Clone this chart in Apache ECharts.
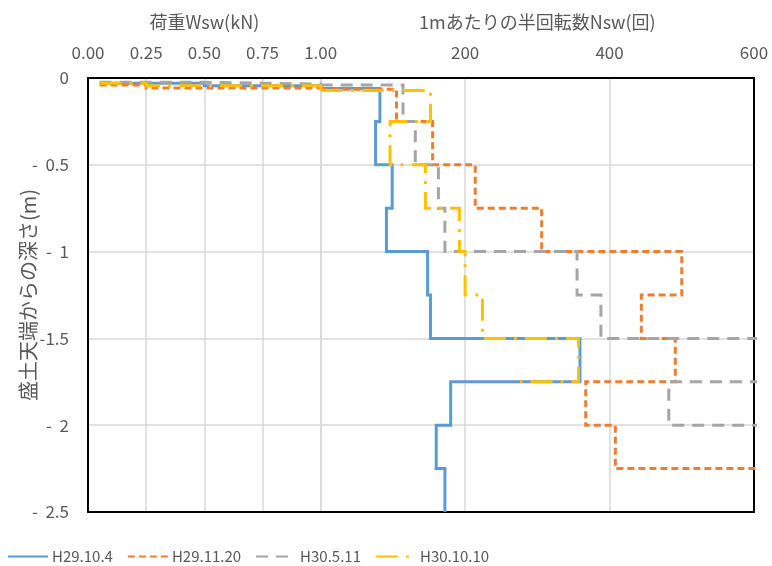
<!DOCTYPE html>
<html>
<head>
<meta charset="utf-8">
<script src="https://cdn.jsdelivr.net/npm/echarts@6/dist/echarts.min.js"></script>
<style>html,body{margin:0;padding:0;background:#fff;}#c{width:772px;height:566px;}</style>
</head>
<body>
<div id="c"></div>
<script>
// ---- data ----
const seriesNames = ["H29.10.4", "H29.11.20", "H30.5.11", "H30.10.10"];
const yTickLabels = ["0", "-  0.5", "-  1", "-1.5", "-  2", "-  2.5"];
const wswTitle = "荷重Wsw(kN)";
const nswTitle = "1mあたりの半回転数Nsw(回)";
const yTitle = "盛土天端からの深さ(m)";

// Wsw part (load kN, depth m)
const blueWswLoad = [0.05, 0.50, 1.00];
const blueWswDepth = [0.03, 0.045, 0.06];
const orangeWswLoad = [0.05, 0.25, 1.00];
const orangeWswDepth = [0.04, 0.058, 0.065];
const grayWswLoad = [0.05, 0.50, 1.00];
const grayWswDepth = [0.025, 0.035, 0.04];
const yellowWswLoad = [0.05, 0.25, 1.00];
const yellowWswDepth = [0.03, 0.045, 0.072];

// Nsw part (value per layer, layer bottom depth m)
const blueNsw = [82, 76, 99, 91, 148, 152, 359, 180, 160, 172];
const blueBottom = [0.25, 0.5, 0.75, 1.0, 1.25, 1.5, 1.75, 2.0, 2.25, 2.5];
const orangeNsw = [105, 155, 214, 306, 500, 444, 491, 367, 408, 650];
const orangeBottom = [0.25, 0.5, 0.75, 1.0, 1.25, 1.5, 1.75, 2.0, 2.25, 2.5];
const grayNsw = [114, 131, 163, 172, 355, 388, 640, 482, 640];
const grayBottom = [0.25, 0.5, 0.75, 1.0, 1.25, 1.5, 1.75, 2.0, 2.25];
const yellowNsw = [152, 96, 145, 192, 200, 224, 357, 276];
const yellowBottom = [0.25, 0.5, 0.75, 1.0, 1.25, 1.5, 1.75, 1.75];

// ---- helpers ----
function wswPath(loads, depths) {
  const pts = [[loads[0], -depths[0]]];
  for (let i = 1; i < loads.length; i++) {
    pts.push([loads[i], -depths[i - 1]]);
    pts.push([loads[i], -depths[i]]);
  }
  return pts;
}
function nswPath(start, values, bottoms) {
  const pts = [[0, -start]];
  let d = start;
  for (let i = 0; i < values.length; i++) {
    pts.push([values[i], -d]);
    pts.push([values[i], -bottoms[i]]);
    d = bottoms[i];
  }
  return pts;
}

const FONT = "'Noto Sans CJK JP', 'Noto Sans', sans-serif";
const TXT = '#595959';
const GRIDC = '#D9D9D9';
const styles = [
  { color: '#5B9BD5', type: 'solid' },
  { color: '#ED7D31', type: [7, 4] },
  { color: '#A5A5A5', type: [12, 8] },
  { color: '#FFC000', type: [22, 8, 3, 8] }
];
const wswSets = [
  [blueWswLoad, blueWswDepth], [orangeWswLoad, orangeWswDepth],
  [grayWswLoad, grayWswDepth], [yellowWswLoad, yellowWswDepth]
];
const nswSets = [
  [blueNsw, blueBottom], [orangeNsw, orangeBottom],
  [grayNsw, grayBottom], [yellowNsw, yellowBottom]
];

const series = [];
for (let g = 0; g < 2; g++) {
  for (let i = 0; i < 4; i++) {
    const w = wswSets[i];
    const data = g === 0 ? wswPath(w[0], w[1])
      : nswPath(w[1][w[1].length - 1], nswSets[i][0], nswSets[i][1]);
    series.push({
      name: seriesNames[i], type: 'line', xAxisIndex: g, yAxisIndex: g,
      data: data, symbol: 'none', showSymbol: false, clip: true,
      lineStyle: { color: styles[i].color, width: 3, type: styles[i].type, cap: 'butt', join: 'miter' },
      itemStyle: { color: styles[i].color },
      z: 3 + i
    });
  }
}

const L = 88, T = 78, H = 434, XB = 320.7, R = 754;
const frame = { show: true, onZero: false, lineStyle: { color: '#000', width: 2 } };
const split = { show: true, lineStyle: { color: GRIDC, width: 1.5 } };
const lbl = { color: TXT, fontSize: 17, fontFamily: FONT };

const option = {
  animation: false,
  backgroundColor: '#fff',
  grid: [
    { left: L, top: T, width: XB - L, height: H },
    { left: XB, top: T, width: R - XB, height: H }
  ],
  xAxis: [
    { gridIndex: 0, type: 'value', position: 'top', min: 0, max: 1, interval: 0.25,
      axisLine: frame, axisTick: { show: false }, splitLine: split,
      axisLabel: Object.assign({ margin: 17, formatter: v => v.toFixed(2) }, lbl),
      name: wswTitle, nameLocation: 'middle', nameGap: 47, nameMoveOverlap: false,
      nameTextStyle: { color: TXT, fontSize: 18, fontFamily: FONT } },
    { gridIndex: 1, type: 'value', position: 'top', min: 0, max: 600, interval: 200,
      axisLine: frame, axisTick: { show: false }, splitLine: split,
      axisLabel: Object.assign({ margin: 17, formatter: v => (v === 0 ? '' : String(v)) }, lbl),
      name: nswTitle, nameLocation: 'middle', nameGap: 47, nameMoveOverlap: false,
      nameTextStyle: { color: TXT, fontSize: 18, fontFamily: FONT } },
    { gridIndex: 0, type: 'value', position: 'bottom', min: 0, max: 1, interval: 0.25,
      axisLine: frame, axisTick: { show: false }, splitLine: { show: false }, axisLabel: { show: false } },
    { gridIndex: 1, type: 'value', position: 'bottom', min: 0, max: 600, interval: 200,
      axisLine: frame, axisTick: { show: false }, splitLine: { show: false }, axisLabel: { show: false } }
  ],
  yAxis: [
    { gridIndex: 0, type: 'value', position: 'left', min: -2.5, max: 0, interval: 0.5,
      axisLine: frame, axisTick: { show: false }, splitLine: split,
      axisLabel: Object.assign({ margin: 19, formatter: v => yTickLabels[Math.round(-v / 0.5)] }, lbl),
      name: yTitle, nameLocation: 'middle', nameGap: 50, nameRotate: 90, nameMoveOverlap: false,
      nameTextStyle: { color: TXT, fontSize: 20, fontFamily: FONT } },
    { gridIndex: 1, type: 'value', position: 'right', min: -2.5, max: 0, interval: 0.5,
      axisLine: frame, axisTick: { show: false }, splitLine: split, axisLabel: { show: false } }
  ],
  legend: {
    data: seriesNames, left: 2, top: 544, itemWidth: 40, itemHeight: 14, itemGap: 14,
    itemStyle: { opacity: 0 },
    textStyle: { color: TXT, fontSize: 15, fontFamily: FONT, padding: [0, 0, 0, -1] }
  },
  series: series
};

echarts.init(document.getElementById('c'), null, { renderer: 'canvas' }).setOption(option);
</script>
</body>
</html>
